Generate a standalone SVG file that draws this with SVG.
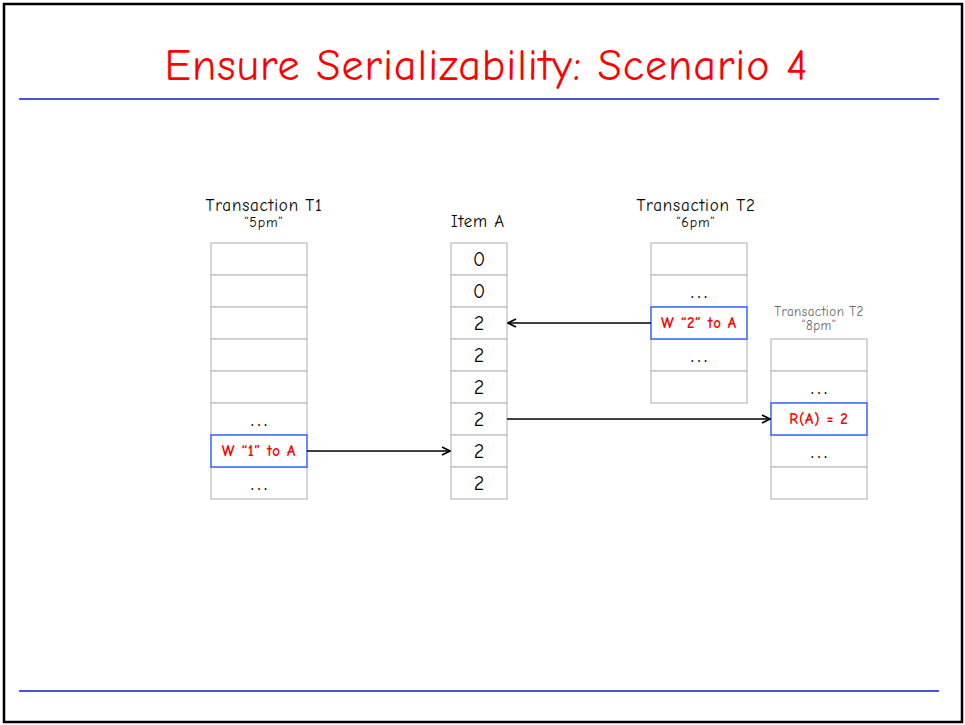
<svg xmlns="http://www.w3.org/2000/svg" width="965" height="725" viewBox="0 0 965 725">
<defs>
<style>
.frame{fill:#fff;stroke:#000;stroke-width:2.5}
.rule{stroke:#4a55d6;stroke-width:2}
.cell{fill:#fff;stroke:#c8c8c8;stroke-width:1.5}
.hl{fill:#fff;stroke:#3366ff;stroke-width:1.5}
.t{font-family:"Comic Neue","Liberation Sans","DejaVu Sans",sans-serif;text-anchor:middle;fill:#000}
.title{font-size:44px;fill:#ff0000}
.hdr{font-size:17px;letter-spacing:0.8px}
.sub{font-size:14px;letter-spacing:0.8px}
.val{font-size:20px}
.dots{font-size:15px;letter-spacing:4px;font-weight:bold}
.red{font-size:15px;font-weight:bold;fill:#ff0000;letter-spacing:0.8px}
.gsub{font-size:13px;fill:#666;letter-spacing:0.5px}
.conn{stroke:#000;stroke-width:1.5;fill:none;marker-end:url(#ah)}
</style>
<marker id="ah" viewBox="0 0 10 10" refX="9" refY="5" markerWidth="10" markerHeight="10" markerUnits="userSpaceOnUse" orient="auto">
<path d="M1,1 L9,5 L1,9" fill="none" stroke="#000" stroke-width="1.6"/>
</marker>
</defs>
<rect class="frame" x="4" y="4" width="958" height="718"/>
<text class="t title" x="486" y="80" textLength="643" lengthAdjust="spacing">Ensure Serializability: Scenario 4</text>
<line class="rule" x1="19" y1="99" x2="939" y2="99"/>
<line class="rule" x1="19" y1="691" x2="939" y2="691"/>

<g id="t1">
<text class="t hdr" x="264" y="211">Transaction T1</text>
<text class="t sub" x="264" y="227">“5pm”</text>
<rect class="cell" x="211" y="243" width="96" height="32"/>
<rect class="cell" x="211" y="275" width="96" height="32"/>
<rect class="cell" x="211" y="307" width="96" height="32"/>
<rect class="cell" x="211" y="339" width="96" height="32"/>
<rect class="cell" x="211" y="371" width="96" height="32"/>
<rect class="cell" x="211" y="403" width="96" height="32"/>
<rect class="cell" x="211" y="467" width="96" height="32"/>
<rect class="hl" x="211" y="435" width="96" height="32"/>
<text class="t dots" x="261" y="426">...</text>
<text class="t red" x="259" y="456">W “1” to A</text>
<text class="t dots" x="261" y="490">...</text>
</g>

<g id="itemA">
<text class="t hdr" x="478" y="227">Item A</text>
<rect class="cell" x="451" y="243" width="56" height="32"/>
<rect class="cell" x="451" y="275" width="56" height="32"/>
<rect class="cell" x="451" y="307" width="56" height="32"/>
<rect class="cell" x="451" y="339" width="56" height="32"/>
<rect class="cell" x="451" y="371" width="56" height="32"/>
<rect class="cell" x="451" y="403" width="56" height="32"/>
<rect class="cell" x="451" y="435" width="56" height="32"/>
<rect class="cell" x="451" y="467" width="56" height="32"/>
<text class="t val" x="479" y="266">0</text>
<text class="t val" x="479" y="298">0</text>
<text class="t val" x="479" y="330">2</text>
<text class="t val" x="479" y="362">2</text>
<text class="t val" x="479" y="394">2</text>
<text class="t val" x="479" y="426">2</text>
<text class="t val" x="479" y="458">2</text>
<text class="t val" x="479" y="490">2</text>
</g>

<g id="t2-6pm">
<text class="t hdr" x="696" y="211">Transaction T2</text>
<text class="t sub" x="696" y="227">“6pm”</text>
<rect class="cell" x="651" y="243" width="96" height="32"/>
<rect class="cell" x="651" y="275" width="96" height="32"/>
<rect class="cell" x="651" y="339" width="96" height="32"/>
<rect class="cell" x="651" y="371" width="96" height="32"/>
<rect class="hl" x="651" y="307" width="96" height="32"/>
<text class="t dots" x="701" y="298">...</text>
<text class="t red" x="699" y="328">W “2” to A</text>
<text class="t dots" x="701" y="362">...</text>
</g>

<g id="t2-8pm">
<text class="t gsub" x="819" y="316">Transaction T2</text>
<text class="t gsub" x="819" y="330">“8pm”</text>
<rect class="cell" x="771" y="339" width="96" height="32"/>
<rect class="cell" x="771" y="371" width="96" height="32"/>
<rect class="cell" x="771" y="435" width="96" height="32"/>
<rect class="cell" x="771" y="467" width="96" height="32"/>
<rect class="hl" x="771" y="403" width="96" height="32"/>
<text class="t dots" x="821" y="394">...</text>
<text class="t red" x="819" y="424">R(A) = 2</text>
<text class="t dots" x="821" y="458">...</text>
</g>

<g id="connectors">
<line class="conn" x1="651" y1="323" x2="508" y2="323"/>
<line class="conn" x1="507" y1="419" x2="770" y2="419"/>
<line class="conn" x1="307" y1="451" x2="450" y2="451"/>
</g>
</svg>
